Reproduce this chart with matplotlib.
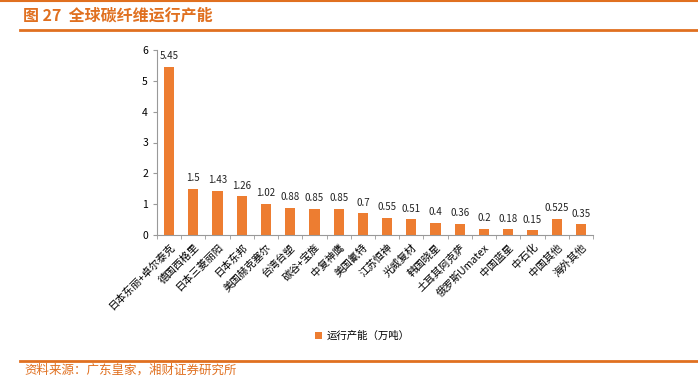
import matplotlib
matplotlib.use("Agg")
import numpy as np
from matplotlib import pyplot as plt
from matplotlib.lines import Line2D

plt.rcParams["font.family"] = ["Noto Sans CJK SC", "DejaVu Sans"]

companies = [
    "日本东丽+卓尔泰克", "德国西格里", "日本三菱丽阳", "日本东邦", "美国赫克塞尔",
    "台湾台塑", "碳谷+宝旌", "中复神鹰", "美国氰特", "江苏恒神", "光威复材",
    "韩国晓星", "土耳其阿克萨", "俄罗斯Umatex", "中国蓝星", "中石化",
    "中国其他", "海外其他",
]
capacity = [5.45, 1.5, 1.43, 1.26, 1.02, 0.88, 0.85, 0.85, 0.7, 0.55, 0.51,
            0.4, 0.36, 0.2, 0.18, 0.15, 0.525, 0.35]
value_labels = ["5.45", "1.5", "1.43", "1.26", "1.02", "0.88", "0.85", "0.85",
                "0.7", "0.55", "0.51", "0.4", "0.36", "0.2", "0.18", "0.15",
                "0.525", "0.35"]

orange = "#ED7D31"
title_col = "#E07020"

fig = plt.figure(figsize=(6.98, 3.77), dpi=100)
W, H = 698, 377

# header / footer rules
fig.add_artist(Line2D([0, 1], [1 - 1 / H, 1 - 1 / H], color=title_col, lw=1.5))
fig.add_artist(Line2D([20 / W, 1], [1 - 30 / H, 1 - 30 / H], color=title_col, lw=2))
fig.add_artist(Line2D([20 / W, 1], [1 - 361 / H, 1 - 361 / H], color=title_col, lw=2))
fig.text(23 / W, 1 - 16 / H, "图 27  全球碳纤维运行产能", color=title_col,
         fontsize=11.5, fontweight="bold", va="center", ha="left")
fig.text(24 / W, 1 - 370.5 / H, "资料来源：广东皇家，湘财证券研究所", color=title_col,
         fontsize=9, style="italic", va="center", ha="left")

ax = fig.add_axes([157 / W, 1 - 235 / H, (593 - 157) / W, (235 - 50) / H])
x = np.arange(len(companies))
bars = ax.bar(x, capacity, width=0.42, color=orange, label="运行产能（万吨）")
for xi, v, lab in zip(x, capacity, value_labels):
    ax.text(xi, v + 0.18, lab, ha="center", va="bottom", fontsize=7, color="#222222")

ax.set_xlim(-0.5, len(companies) - 0.5)
ax.set_ylim(0, 6)
ax.set_yticks(range(7))
ax.set_xticks(x)
ax.set_xticklabels(companies, rotation=45, ha="right", rotation_mode="anchor",
                   fontsize=7.5)
ax.set_xticks(np.arange(-0.5, len(companies)), minor=True)
ax.tick_params(axis="x", which="major", length=0, pad=5)
ax.tick_params(axis="x", which="minor", length=3, color="#999999")
ax.tick_params(axis="y", length=3, color="#999999", labelsize=7.5)
for s in ["top", "right"]:
    ax.spines[s].set_visible(False)
for s in ["left", "bottom"]:
    ax.spines[s].set_color("#999999")

fig.legend(handles=[bars], labels=["运行产能（万吨）"], loc="center",
           bbox_to_anchor=(362 / W, 1 - 336 / H), frameon=False, fontsize=7.5,
           handlelength=0.7, handleheight=0.7, handletextpad=0.4)

fig.savefig("out.png", dpi=100)
